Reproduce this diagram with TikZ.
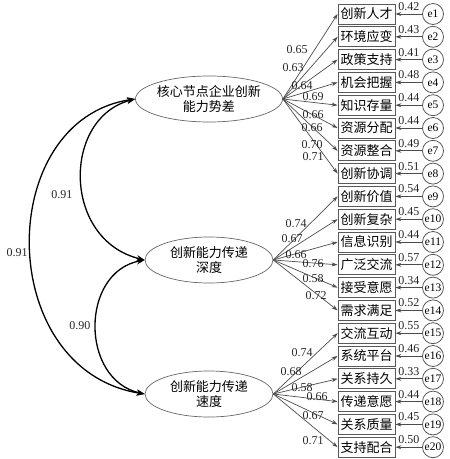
\documentclass[tikz,border=0pt]{standalone}
\usepackage{fontspec}
\setmainfont{Liberation Serif}
\newfontfamily\cjk{Noto Sans CJK SC}
\usetikzlibrary{arrows.meta,shapes.geometric}
\begin{document}
\begin{tikzpicture}[x=1pt,y=-1pt,
 obs/.style={draw=black!65, line width=0.8pt, minimum width=57pt, minimum height=20pt, inner sep=0pt, font=\cjk\fontsize{13}{14}\selectfont},
 err/.style={circle, draw=black!65, line width=0.8pt, minimum size=21pt, inner sep=0pt, font=\fontsize{11.5}{12}\selectfont},
 lat/.style={ellipse, draw=black!60, line width=0.7pt, minimum width=128pt, minimum height=46pt, inner sep=0pt, align=center, font=\cjk\fontsize{13}{15}\selectfont},
 load/.style={draw=black!70, line width=0.7pt, -{Stealth[length=6pt,width=4pt]}},
 errarr/.style={draw=black!70, line width=0.7pt, -{Stealth[length=6pt,width=4pt]}},
 cov/.style={line width=1.3pt, {Stealth[length=8pt,width=6pt]}-{Stealth[length=8pt,width=6pt]}},
 num/.style={font=\fontsize{12}{12}\selectfont, inner sep=0pt, text=black!85},
]
\useasboundingbox (0,0) rectangle (450,459);

% latent variables
\node[lat] (f1) at (209,99) {核心节点企业创新\\能力势差};
\node[lat] (f2) at (209,260) {创新能力传递\\深度};
\node[lat] (f3) at (209,394) {创新能力传递\\速度};

% observed variables
\foreach \t [count=\i] in {创新人才,环境应变,政策支持,机会把握,知识存量,资源分配,资源整合,创新协调,创新价值,创新复杂,信息识别,广泛交流,接受意愿,需求满足,交流互动,系统平台,关系持久,传递意愿,关系质量,支持配合}
  \node[obs] (o\i) at (366.5,{14+(\i-1)*22.8}) {\t};

% error terms
\foreach \v [count=\i] in {0.42,0.43,0.41,0.48,0.44,0.44,0.49,0.51,0.54,0.45,0.44,0.57,0.34,0.52,0.55,0.46,0.33,0.44,0.45,0.50} {
  \node[err] (e\i) at (433,{14+(\i-1)*22.8}) {e\i};
  \draw[errarr] (e\i) -- node[num, midway, above=3pt] (r\i) {\v} (o\i);
}

% loadings
\foreach \i in {1,...,8} \draw[load] (f1.east) -- (o\i.west);
\foreach \i in {9,...,14} \draw[load] (f2.east) -- (o\i.west);
\foreach \i in {15,...,20} \draw[load] (f3.east) -- (o\i.west);

\node[num] (l1) at (297,50) {0.65};
\node[num] (l2) at (293,68) {0.63};
\node[num] (l3) at (302,86) {0.64};
\node[num] (l4) at (313,97) {0.69};
\node[num] (l5) at (313,115) {0.66};
\node[num] (l6) at (312,128) {0.66};
\node[num] (l7) at (312,145) {0.70};
\node[num] (l8) at (313,157) {0.71};
\node[num] (l9) at (296,224) {0.74};
\node[num] (l10) at (292,239) {0.67};
\node[num] (l11) at (296,255) {0.66};
\node[num] (l12) at (313,264) {0.76};
\node[num] (l13) at (313,279) {0.58};
\node[num] (l14) at (316,296) {0.72};
\node[num] (l15) at (302,353) {0.74};
\node[num] (l16) at (291,372) {0.68};
\node[num] (l17) at (302,388) {0.58};
\node[num] (l18) at (317,397) {0.66};
\node[num] (l19) at (313,416) {0.67};
\node[num] (l20) at (313,441) {0.71};

% covariances
\draw[cov] (f1.west) .. controls (-6,120) and (-6,370) .. (f3.west);
\draw[cov] (f1.west) .. controls (62,118) and (62,240) .. (f2.west);
\draw[cov] (f2.west) .. controls (80,272) and (80,380) .. (f3.west);
\node[num] (c1) at (17,253) {0.91};
\node[num] (c2) at (62,195) {0.91};
\node[num] (c3) at (80,326) {0.90};
\end{tikzpicture}
\end{document}
